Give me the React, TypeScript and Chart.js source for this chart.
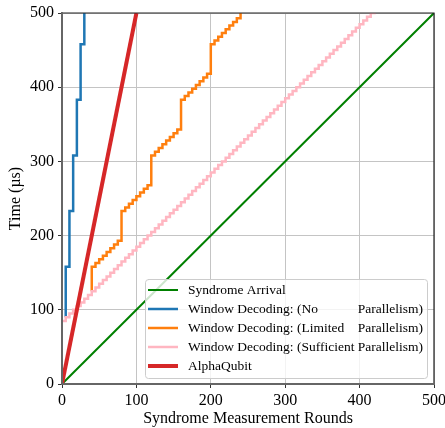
import React, { useEffect, useRef } from 'react';
import { Chart, registerables } from 'chart.js';

Chart.register(...registerables);

const FONT = '"Liberation Serif", "Times New Roman", serif';

const roundTicks = [0, 100, 200, 300, 400, 500];
const timeTicks = [0, 100, 200, 300, 400, 500];

const arrivalRounds = [0, 500];
const arrivalTimes = [0, 500];

const noParRounds = [5, 5, 10, 15, 20, 25, 30];
const noParTimes = [90, 158, 233, 308, 383, 458, 533];

const limitedRounds = [40, 40, 45, 50, 55, 60, 65, 70, 75, 80, 85, 90, 95, 100, 105, 110, 115, 120, 125, 130, 135, 140, 145, 150, 155, 160, 165, 170, 175, 180, 185, 190, 195, 200, 205, 210, 215, 220, 225, 230, 235, 240];
const limitedTimes = [125, 158, 163, 168, 173, 178, 183, 188, 193, 233, 238, 243, 248, 253, 258, 263, 268, 308, 313, 318, 323, 328, 333, 338, 343, 383, 388, 393, 398, 403, 408, 413, 418, 458, 463, 468, 473, 478, 483, 488, 493, 533];

const sufficientRounds = [0, 5, 10, 15, 20, 25, 30, 35, 40, 45, 50, 55, 60, 65, 70, 75, 80, 85, 90, 95, 100, 105, 110, 115, 120, 125, 130, 135, 140, 145, 150, 155, 160, 165, 170, 175, 180, 185, 190, 195, 200, 205, 210, 215, 220, 225, 230, 235, 240, 245, 250, 255, 260, 265, 270, 275, 280, 285, 290, 295, 300, 305, 310, 315, 320, 325, 330, 335, 340, 345, 350, 355, 360, 365, 370, 375, 380, 385, 390, 395, 400, 405, 410, 415, 420];
const sufficientTimes = [85, 90, 95, 100, 105, 110, 115, 120, 125, 130, 135, 140, 145, 150, 155, 160, 165, 170, 175, 180, 185, 190, 195, 200, 205, 210, 215, 220, 225, 230, 235, 240, 245, 250, 255, 260, 265, 270, 275, 280, 285, 290, 295, 300, 305, 310, 315, 320, 325, 330, 335, 340, 345, 350, 355, 360, 365, 370, 375, 380, 385, 390, 395, 400, 405, 410, 415, 420, 425, 430, 435, 440, 445, 450, 455, 460, 465, 470, 475, 480, 485, 490, 495, 500, 505];

const alphaRounds = [0, 100];
const alphaTimes = [0, 500];

const seriesNames = [
  'Syndrome Arrival',
  'Window Decoding: (No',
  'Window Decoding: (Limited',
  'Window Decoding: (Sufficient',
  'AlphaQubit',
];
const seriesSuffix = ['', 'Parallelism)', 'Parallelism)', 'Parallelism)', ''];
const seriesColors = ['#008000', '#1f77b4', '#ff7f0e', '#ffb6c1', '#d62728'];
const seriesWidths = [2, 2.5, 2.5, 2.5, 4];

const toPoints = (xs: number[], ys: number[]) => xs.map((x, i) => ({ x, y: ys[i] }));

const decorPlugin = {
  id: 'decor',
  afterDatasetsDraw(chart: any) {
    const { ctx, chartArea } = chart;
    const { left, right, top, bottom } = chartArea;
    ctx.save();
    // spines
    ctx.lineCap = 'square';
    ctx.strokeStyle = '#222222';
    ctx.lineWidth = 1.2;
    ctx.beginPath();
    ctx.moveTo(left, top);
    ctx.lineTo(right, top);
    ctx.lineTo(right, bottom);
    ctx.stroke();
    ctx.strokeStyle = '#666666';
    ctx.lineWidth = 2;
    ctx.beginPath();
    ctx.moveTo(left, top);
    ctx.lineTo(left, bottom);
    ctx.lineTo(right, bottom);
    ctx.stroke();

    // legend
    const bx2 = right - 7;
    const by2 = bottom - 6;
    const w = 282;
    const h = 99;
    const bx = bx2 - w;
    const by = by2 - h;
    ctx.beginPath();
    if ((ctx as any).roundRect) {
      (ctx as any).roundRect(bx + 0.5, by + 0.5, w, h, 3);
    } else {
      ctx.rect(bx + 0.5, by + 0.5, w, h);
    }
    ctx.fillStyle = 'rgba(255,255,255,0.8)';
    ctx.fill();
    ctx.strokeStyle = '#cccccc';
    ctx.lineWidth = 1;
    ctx.stroke();

    ctx.font = '13.5px ' + FONT;
    ctx.textBaseline = 'middle';
    ctx.textAlign = 'left';
    const textX = bx + 43;
    const suffixX = textX + ctx.measureText(seriesNames[3] + ' ').width;
    seriesNames.forEach((name, i) => {
      const y = by + 11 + i * 19;
      ctx.strokeStyle = seriesColors[i];
      ctx.lineWidth = seriesWidths[i];
      ctx.lineCap = 'butt';
      ctx.beginPath();
      ctx.moveTo(bx + 3, y);
      ctx.lineTo(bx + 33, y);
      ctx.stroke();
      ctx.fillStyle = '#000000';
      ctx.fillText(name, textX, y);
      if (seriesSuffix[i]) ctx.fillText(seriesSuffix[i], suffixX, y);
    });
    ctx.restore();
  },
};

export default function App() {
  const canvasRef = useRef<HTMLCanvasElement | null>(null);

  useEffect(() => {
    const canvas = canvasRef.current;
    if (!canvas) return;
    const seriesData = [
      toPoints(arrivalRounds, arrivalTimes),
      toPoints(noParRounds, noParTimes),
      toPoints(limitedRounds, limitedTimes),
      toPoints(sufficientRounds, sufficientTimes),
      toPoints(alphaRounds, alphaTimes),
    ];
    const chart = new Chart(canvas, {
      type: 'line',
      data: {
        datasets: seriesData.map((data, i) => ({
          label: seriesNames[i] + (seriesSuffix[i] ? ' ' + seriesSuffix[i] : ''),
          data,
          borderColor: seriesColors[i],
          backgroundColor: seriesColors[i],
          borderWidth: seriesWidths[i],
          pointRadius: 0,
          fill: false,
          tension: 0,
          stepped: i >= 1 && i <= 3 ? 'before' : false,
          order: 5 - i,
          clip: 0,
        })) as any,
      },
      options: {
        responsive: false,
        animation: false,
        devicePixelRatio: 1,
        layout: { padding: { top: 13, right: 11, left: 0, bottom: 0 } },
        plugins: {
          legend: { display: false },
          tooltip: { enabled: false },
          title: { display: false },
        },
        scales: {
          x: {
            type: 'linear',
            min: 0,
            max: 500,
            afterFit: (s: any) => { s.height = 44; s.paddingLeft = 0; s.paddingRight = 0; },
            afterBuildTicks: (s: any) => { s.ticks = roundTicks.map((v) => ({ value: v })); },
            grid: { color: '#c4c4c4', lineWidth: 1, tickLength: 4, tickColor: '#333333', tickWidth: 1 },
            border: { display: false },
            ticks: { font: { family: FONT, size: 16 }, color: '#000000', padding: 3, maxRotation: 0 },
            title: {
              display: true,
              text: 'Syndrome Measurement Rounds',
              font: { family: FONT, size: 16 },
              color: '#000000',
              padding: { top: 0, bottom: 0 },
            },
          },
          y: {
            type: 'linear',
            min: 0,
            max: 500,
            afterFit: (s: any) => { s.width = 62; s.paddingTop = 0; s.paddingBottom = 0; },
            afterBuildTicks: (s: any) => { s.ticks = timeTicks.map((v) => ({ value: v })); },
            grid: { color: '#c4c4c4', lineWidth: 1, tickLength: 4, tickColor: '#333333', tickWidth: 1 },
            border: { display: false },
            ticks: { font: { family: FONT, size: 16 }, color: '#000000', padding: 4 },
            title: {
              display: true,
              text: 'Time (µs)',
              font: { family: FONT, size: 16 },
              color: '#000000',
              padding: { top: 6, bottom: 0 },
            },
          },
        },
      },
      plugins: [decorPlugin],
    });
    return () => chart.destroy();
  }, []);

  return (
    <div style={{ position: 'fixed', left: 0, top: 0, width: 445, height: 428, background: '#ffffff' }}>
      <canvas ref={canvasRef} width={445} height={428} style={{ display: 'block' }} />
    </div>
  );
}
